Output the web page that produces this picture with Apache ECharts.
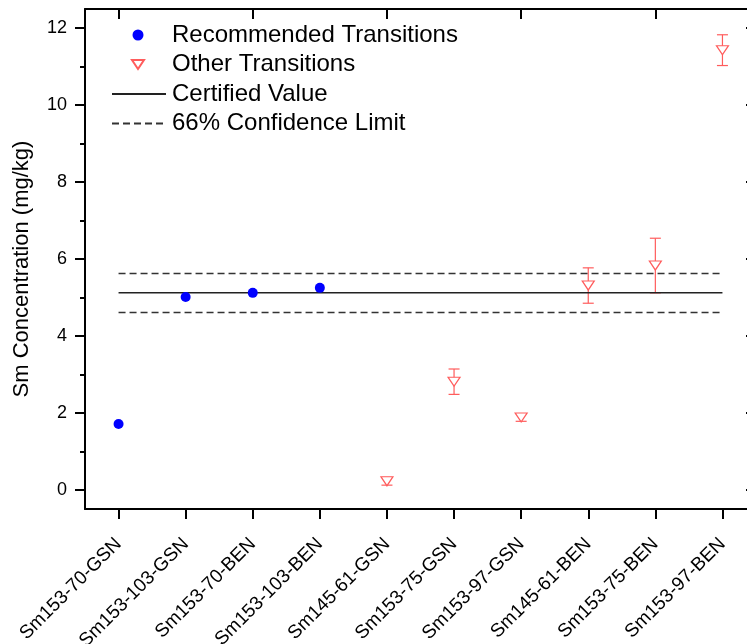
<!DOCTYPE html>
<html><head><meta charset="utf-8">
<script src="https://cdn.jsdelivr.net/npm/echarts@6/dist/echarts.min.js"></script>
<style>html,body{margin:0;padding:0;background:#fff}#c{width:747px;height:644px}</style>
</head><body><div id="c"></div>
<script>
const categories = ['Sm153-70-GSN','Sm153-103-GSN','Sm153-70-BEN','Sm153-103-BEN','Sm145-61-GSN','Sm153-75-GSN','Sm153-97-GSN','Sm145-61-BEN','Sm153-75-BEN','Sm153-97-BEN'];
const recommendedValues = [1.71, 5.01, 5.12, 5.25, null, null, null, null, null, null];
const otherValues = [null, null, null, null, 0.22, 2.81, 1.88, 5.31, 5.83, 11.43];
const otherErrors = [null, null, null, null, 0.10, 0.33, 0.10, 0.46, 0.71, 0.40];
const certifiedValue = 5.12;
const confidenceUpper = 5.62;
const confidenceLower = 4.61;
const yMajorTicks = [0, 2, 4, 6, 8, 10, 12];
const yMinorTicks = [1, 3, 5, 7, 9, 11];

const FONT = 'Liberation Sans, Arial, sans-serif';
const RED = '#ff5c5c';
const BLUE = '#0000ff';

const errorData = [];
otherValues.forEach((v, i) => {
  if (v != null) errorData.push([i, v - otherErrors[i], v + otherErrors[i]]);
});

const chart = echarts.init(document.getElementById('c'), null, {renderer: 'canvas'});
const axisLine = {show: true, onZero: false, lineStyle: {color: '#000', width: 2}};
const yBase = {type: 'value', min: -0.5, max: 12.5, splitLine: {show: false}};

chart.setOption({
  animation: false,
  backgroundColor: '#fff',
  grid: [
    {left: 85, top: 9, width: 671, height: 500, containLabel: false, outerBoundsMode: 'none'},
    {left: 85, top: 29, width: 671, height: 480, containLabel: false, outerBoundsMode: 'none'}
  ],
  legend: [
    {
      data: ['Recommended Transitions', 'Other Transitions'],
      orient: 'vertical', left: 131, top: 23, padding: 0,
      itemWidth: 12, itemHeight: 11, itemGap: 5.5, selectedMode: false,
      textStyle: {fontFamily: FONT, fontSize: 24, color: '#000', lineHeight: 24, padding: [0, 0, 0, 23]}
    },
    {
      data: ['Certified Value', '66% Confidence Limit'],
      orient: 'vertical', left: 111, top: 82, padding: 0,
      itemWidth: 54, itemHeight: 12, itemGap: 5.5, selectedMode: false,
      itemStyle: {opacity: 0},
      textStyle: {fontFamily: FONT, fontSize: 24, color: '#000', lineHeight: 24, padding: [0, 0, 0, 1]}
    }
  ],
  xAxis: [
    {
      type: 'category', data: categories, gridIndex: 0, position: 'bottom', boundaryGap: true,
      axisLine: axisLine,
      axisTick: {show: true, alignWithLabel: true, length: 10, lineStyle: {color: '#000', width: 2}},
      axisLabel: {rotate: 45, fontSize: 19, fontFamily: FONT, color: '#000', margin: 32, interval: 0},
      splitLine: {show: false}
    },
    {
      type: 'category', data: categories, gridIndex: 0, position: 'top', boundaryGap: true,
      axisLine: axisLine,
      axisTick: {show: true, inside: true, alignWithLabel: true, length: 10, lineStyle: {color: '#000', width: 2}},
      axisLabel: {show: false}, splitLine: {show: false}
    },
    {type: 'category', data: categories, gridIndex: 1, show: false}
  ],
  yAxis: [
    Object.assign({}, yBase, {
      gridIndex: 0, position: 'left', axisLine: axisLine,
      axisTick: {show: true, length: 10, customValues: yMajorTicks, lineStyle: {color: '#000', width: 2}},
      axisLabel: {show: true, customValues: yMajorTicks, fontSize: 18, fontFamily: FONT, color: '#000', margin: 18}
    }),
    Object.assign({}, yBase, {
      gridIndex: 0, position: 'left', axisLine: {show: false},
      axisTick: {show: true, length: 5, customValues: yMinorTicks, lineStyle: {color: '#000', width: 2}},
      axisLabel: {show: false}
    }),
    Object.assign({}, yBase, {
      gridIndex: 0, position: 'right', axisLine: axisLine,
      axisTick: {show: true, inside: true, length: 10, customValues: yMajorTicks, lineStyle: {color: '#000', width: 2}},
      axisLabel: {show: false}
    }),
    Object.assign({}, yBase, {
      gridIndex: 0, position: 'right', axisLine: {show: false},
      axisTick: {show: true, inside: true, length: 5, customValues: yMinorTicks, lineStyle: {color: '#000', width: 2}},
      axisLabel: {show: false}
    }),
    {
      type: 'value', gridIndex: 1, position: 'left', min: 0, max: 1,
      axisLine: {show: false}, axisTick: {show: false}, axisLabel: {show: false}, splitLine: {show: false},
      name: 'Sm Concentration (mg/kg)', nameLocation: 'middle', nameGap: 52,
      nameTextStyle: {fontFamily: FONT, fontSize: 22, color: '#000'}
    }
  ],
  series: [
    {
      type: 'custom', name: 'errorbars', xAxisIndex: 0, yAxisIndex: 0, z: 2,
      data: errorData, encode: {x: 0, y: [1, 2]},
      renderItem: function (params, api) {
        const lo = api.coord([api.value(0), api.value(1)]);
        const hi = api.coord([api.value(0), api.value(2)]);
        const w = 5.5;
        const st = {stroke: RED, lineWidth: 1.2};
        return {type: 'group', children: [
          {type: 'line', shape: {x1: hi[0], y1: hi[1], x2: lo[0], y2: lo[1]}, style: st},
          {type: 'line', shape: {x1: hi[0] - w, y1: hi[1], x2: hi[0] + w, y2: hi[1]}, style: st},
          {type: 'line', shape: {x1: lo[0] - w, y1: lo[1], x2: lo[0] + w, y2: lo[1]}, style: st}
        ]};
      }
    },
    {
      type: 'line', name: 'Certified Value', data: categories.map(() => certifiedValue),
      symbol: 'none', z: 3, lineStyle: {color: '#222', width: 1.5}, itemStyle: {color: '#222'}
    },
    {
      type: 'line', name: '66% Confidence Limit', data: categories.map(() => confidenceUpper),
      symbol: 'none', z: 3, lineStyle: {color: '#333', width: 1.5, type: [7, 4]}, itemStyle: {color: '#333'}
    },
    {
      type: 'line', name: '66% Confidence Limit', data: categories.map(() => confidenceLower),
      symbol: 'none', z: 3, lineStyle: {color: '#333', width: 1.5, type: [7, 4]}, itemStyle: {color: '#333'}
    },
    {
      type: 'scatter', name: 'Recommended Transitions', data: recommendedValues,
      symbol: 'circle', symbolSize: 10, z: 5, itemStyle: {color: BLUE, opacity: 1}
    },
    {
      type: 'scatter', name: 'Other Transitions', data: otherValues,
      symbol: 'path://M0,0L12,0L6,9Z', symbolSize: [12, 9], z: 5,
      itemStyle: {color: '#fff', borderColor: RED, borderWidth: 1.2, opacity: 1}
    }
  ]
});
</script>
</body></html>
